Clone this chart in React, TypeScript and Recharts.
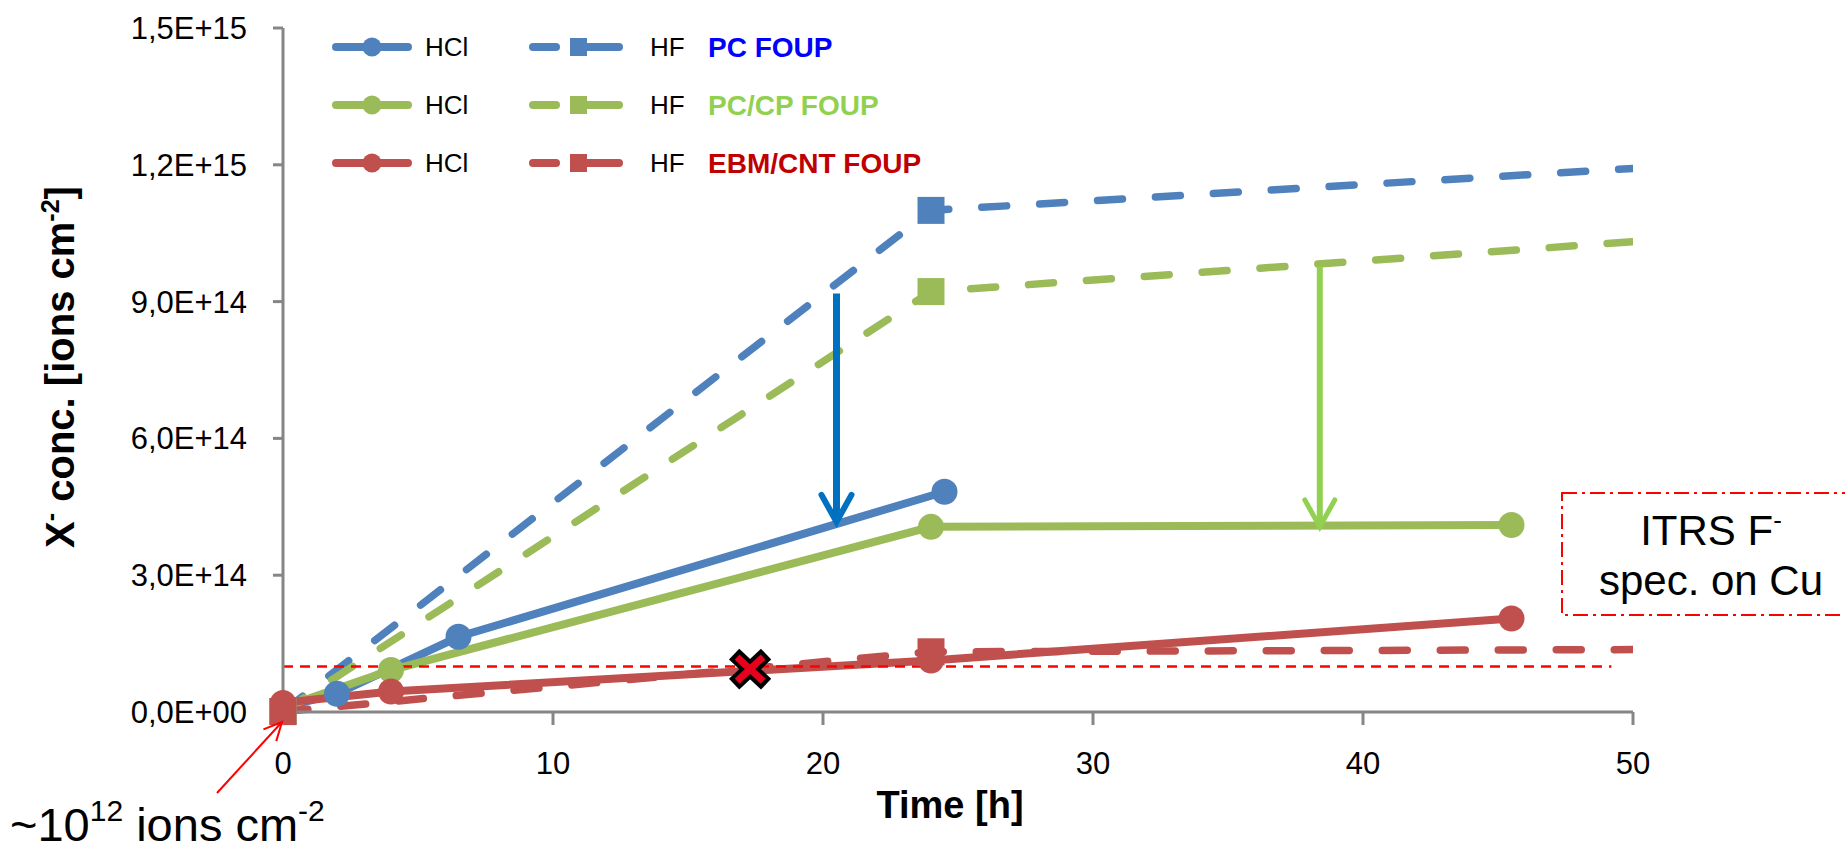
import { ComposedChart, Line, Scatter, XAxis, YAxis, ReferenceLine } from 'recharts'

const FONT = '"Liberation Sans", Arial, sans-serif'

// time [h] and X- concentration [ions cm-2] per series
const hclBlueT = [0, 2, 6.5, 24.5]
const hclBlueV = [1.0e13, 4.0e13, 1.65e14, 4.83e14]
const hfBlueT = [0, 24, 72]
const hfBlueV = [1e12, 1.1e15, 1.27e15]

const hclGreenT = [0, 4, 24, 45.5]
const hclGreenV = [1.0e13, 9.2e13, 4.06e14, 4.1e14]
const hfGreenT = [0, 24, 72]
const hfGreenV = [1e12, 9.22e14, 1.124e15]

const hclRedT = [0, 4, 24, 45.5]
const hclRedV = [2.0e13, 4.5e13, 1.13e14, 2.05e14]
const hfRedT = [0, 24, 72]
const hfRedV = [1e12, 1.32e14, 1.41e14]

// crossing of the EBM/CNT curve with the ITRS limit
const crossT = [17.3]
const crossV = [9.4e13]

const itrsLimit = 1e14
const itrsEnd = 49.2

// reduction arrows: [time, from, to]
const blueArrow = [20.5, 9.18e14, 4.17e14]
const greenArrow = [38.4, 9.77e14, 4.06e14]

const xTicks = [0, 10, 20, 30, 40, 50]
const yTicks = [0, 3e14, 6e14, 9e14, 1.2e15, 1.5e15]

const legendRows = [
  { color: '#4f81bd', label: 'PC FOUP', labelColor: '#0000ff' },
  { color: '#9bbb59', label: 'PC/CP FOUP', labelColor: '#92d050' },
  { color: '#c0504d', label: 'EBM/CNT FOUP', labelColor: '#c00000' }
]

const toPoints = (t: number[], v: number[]) => t.map((x, i) => ({ t: x, v: v[i] }))

const fmtSci = (v: number) => {
  if (v === 0) return '0,0E+00'
  const e = Math.floor(Math.log10(v) + 1e-9)
  const m = v / 10 ** e
  return `${m.toFixed(1).replace('.', ',')}E+${String(e).padStart(2, '0')}`
}

const squareDot = (color: string) => (props: any) => {
  const { cx, cy, payload, index } = props
  if (payload.t > 50 || cx == null) return <g key={`sq-${index}`} />
  return <rect key={`sq-${index}`} x={cx - 13.5} y={cy - 13.5} width={27} height={27} fill={color} />
}

const circleDot = (color: string) => ({ r: 13, fill: color, stroke: color, strokeWidth: 0 })

const arrowShape = (color: string, w: number) => (p: any) => {
  const { x1, y1, x2, y2 } = p
  const top = Math.min(y1, y2)
  const tip = Math.max(y1, y2)
  return (
    <g>
      <line x1={x1} y1={top} x2={x2} y2={tip - 4} stroke={color} strokeWidth={w} />
      <polyline
        points={`${x2 - 15},${tip - 27} ${x2},${tip} ${x2 + 15},${tip - 27}`}
        fill="none"
        stroke={color}
        strokeWidth={w - 1}
        strokeLinecap="round"
        strokeLinejoin="miter"
      />
    </g>
  )
}

const crossShape = (props: any) => {
  const { cx, cy } = props
  return (
    <g>
      <line x1={cx - 16} y1={cy - 15} x2={cx + 16} y2={cy + 15} stroke="#000" strokeWidth={15} />
      <line x1={cx - 16} y1={cy + 15} x2={cx + 16} y2={cy - 15} stroke="#000" strokeWidth={15} />
      <line x1={cx - 13} y1={cy - 12} x2={cx + 13} y2={cy + 12} stroke="#e8001c" strokeWidth={7} />
      <line x1={cx - 13} y1={cy + 12} x2={cx + 13} y2={cy - 12} stroke="#e8001c" strokeWidth={7} />
    </g>
  )
}

const yTitle = (props: any) => {
  const vb = props.viewBox ?? { x: 0, y: 28, width: 283, height: 684 }
  const x = vb.x + 74
  const y = vb.y + vb.height / 2 - 3
  return (
    <text x={x} y={y} transform={`rotate(-90 ${x} ${y})`} textAnchor="middle" fontSize={40} fontWeight="bold" fontFamily={FONT} fill="#000">
      X<tspan dy={-15} fontSize={25}>-</tspan>
      <tspan dy={15}> conc. [ions cm</tspan>
      <tspan dy={-15} fontSize={25}>-2</tspan>
      <tspan dy={15}>]</tspan>
    </text>
  )
}

const xTitle = (props: any) => {
  const vb = props.viewBox ?? { x: 283, y: 712, width: 1350, height: 140 }
  return (
    <text x={vb.x + vb.width / 2 - 8} y={vb.y + 106} textAnchor="middle" fontSize={38} fontWeight="bold" fontFamily={FONT} fill="#000">
      Time [h]
    </text>
  )
}

function Annotations() {
  // small arrow pointing at the t=0 value
  const ax1 = 217, ay1 = 793, ax2 = 282, ay2 = 722
  const ang = Math.atan2(ay1 - ay2, ax1 - ax2)
  const hl = 20
  const w1 = [ax2 + hl * Math.cos(ang + 0.45), ay2 + hl * Math.sin(ang + 0.45)]
  const w2 = [ax2 + hl * Math.cos(ang - 0.45), ay2 + hl * Math.sin(ang - 0.45)]

  return (
    <svg width={1845} height={852} style={{ position: 'absolute', left: 0, top: 0, pointerEvents: 'none' }}>
      {legendRows.map((r, i) => {
        const y = 47 + 58 * i
        return (
          <g key={r.label}>
            <line x1={336} y1={y} x2={408} y2={y} stroke={r.color} strokeWidth={8} strokeLinecap="round" />
            <circle cx={372} cy={y} r={9.5} fill={r.color} />
            <text x={425} y={y + 9} fontSize={26} fontFamily={FONT} fill="#000">HCl</text>
            <line x1={533} y1={y} x2={556} y2={y} stroke={r.color} strokeWidth={8} strokeLinecap="round" />
            <line x1={587} y1={y} x2={619} y2={y} stroke={r.color} strokeWidth={8} strokeLinecap="round" />
            <rect x={570} y={y - 9} width={17} height={18} fill={r.color} />
            <text x={650} y={y + 9} fontSize={26} fontFamily={FONT} fill="#000">HF</text>
            <text x={708} y={y + 10} fontSize={28} fontWeight="bold" fontFamily={FONT} fill={r.labelColor}>{r.label}</text>
          </g>
        )
      })}

      <rect x={1562} y={493} width={330} height={122} fill="none" stroke="#ff0000" strokeWidth={2} strokeDasharray="15 5 3 5" />
      <text x={1711} y={545} textAnchor="middle" fontSize={42} fontFamily={FONT} fill="#000">
        ITRS F<tspan dy={-16} fontSize={26}>-</tspan>
      </text>
      <text x={1711} y={595} textAnchor="middle" fontSize={42} fontFamily={FONT} fill="#000">spec. on Cu</text>

      <line x1={ax1} y1={ay1} x2={ax2} y2={ay2} stroke="#ff0000" strokeWidth={2} />
      <polyline points={`${w1[0]},${w1[1]} ${ax2},${ay2} ${w2[0]},${w2[1]}`} fill="none" stroke="#ff0000" strokeWidth={2} />
      <text x={10} y={841} fontSize={47} fontFamily={FONT} fill="#000">
        ~10<tspan dy={-20} fontSize={30}>12</tspan>
        <tspan dy={20}> ions cm</tspan>
        <tspan dy={-20} fontSize={30}>-2</tspan>
      </text>
    </svg>
  )
}

export default function App() {
  const axisStyle = { stroke: '#868686', strokeWidth: 3 }
  const tickStyle = { fontSize: 31, fill: '#000', fontFamily: FONT }

  return (
    <div style={{ position: 'fixed', left: 0, top: 0, width: 1845, height: 852, overflow: 'hidden', background: '#fff' }}>
      <style>{'.recharts-line-dots{clip-path:none}'}</style>
      <ComposedChart width={1845} height={852} margin={{ top: 28, right: 212, bottom: 0, left: 0 }}>
        <XAxis
          type="number"
          dataKey="t"
          domain={[0, 50]}
          allowDataOverflow
          ticks={xTicks}
          interval={0}
          tickSize={13}
          tickMargin={27}
          height={140}
          axisLine={axisStyle}
          tickLine={axisStyle}
          tick={tickStyle}
          label={xTitle}
        />
        <YAxis
          type="number"
          domain={[0, 1.5e15]}
          ticks={yTicks}
          interval={0}
          width={283}
          tickSize={10}
          tickMargin={26}
          tickFormatter={fmtSci}
          axisLine={axisStyle}
          tickLine={axisStyle}
          tick={tickStyle}
          label={yTitle}
        />
        <Line data={toPoints(hclBlueT, hclBlueV)} dataKey="v" stroke="#4f81bd" strokeWidth={8} dot={circleDot('#4f81bd')} isAnimationActive={false} />
        <Line data={toPoints(hfBlueT, hfBlueV)} dataKey="v" stroke="#4f81bd" strokeWidth={7.5} strokeDasharray="25 33" strokeLinecap="round" dot={squareDot('#4f81bd')} isAnimationActive={false} />
        <Line data={toPoints(hclGreenT, hclGreenV)} dataKey="v" stroke="#9bbb59" strokeWidth={8} dot={circleDot('#9bbb59')} isAnimationActive={false} />
        <Line data={toPoints(hfGreenT, hfGreenV)} dataKey="v" stroke="#9bbb59" strokeWidth={7.5} strokeDasharray="25 33" strokeLinecap="round" dot={squareDot('#9bbb59')} isAnimationActive={false} />
        <Line data={toPoints(hclRedT, hclRedV)} dataKey="v" stroke="#c0504d" strokeWidth={8} dot={circleDot('#c0504d')} isAnimationActive={false} />
        <Line data={toPoints(hfRedT, hfRedV)} dataKey="v" stroke="#c0504d" strokeWidth={7.5} strokeDasharray="25 33" strokeLinecap="round" dot={squareDot('#c0504d')} isAnimationActive={false} />
        <ReferenceLine
          segment={[{ x: 0, y: itrsLimit }, { x: itrsEnd, y: itrsLimit }]}
          stroke="#ff0000"
          strokeWidth={2.5}
          strokeDasharray="10 7"
        />
        <ReferenceLine
          segment={[{ x: blueArrow[0], y: blueArrow[1] }, { x: blueArrow[0], y: blueArrow[2] }]}
          shape={arrowShape('#0070c0', 7)}
        />
        <ReferenceLine
          segment={[{ x: greenArrow[0], y: greenArrow[1] }, { x: greenArrow[0], y: greenArrow[2] }]}
          shape={arrowShape('#92d050', 6)}
        />
        <Scatter data={toPoints(crossT, crossV)} dataKey="v" shape={crossShape} isAnimationActive={false} />
      </ComposedChart>
      <Annotations />
    </div>
  )
}
